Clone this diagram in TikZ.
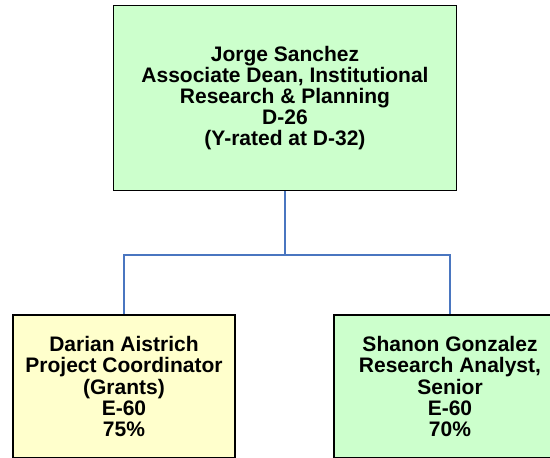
\documentclass[tikz,border=0pt]{standalone}
\usepackage{fontspec}
\setmainfont{Liberation Sans}
\definecolor{boxgreen}{HTML}{CCFFCC}
\definecolor{boxyellow}{HTML}{FFFFCC}
\definecolor{linkblue}{HTML}{4A76C0}
\tikzset{
  orgbox/.style={draw=black, line width=1.6pt, align=center, inner sep=0pt,
    font=\fontsize{21}{21.2}\selectfont\bfseries},
  link/.style={draw=linkblue, line width=1.4pt}
}
\begin{document}
\begin{tikzpicture}[x=1pt,y=-1pt]
\useasboundingbox (0,0) rectangle (550,458);
\clip (0,0) rectangle (550,458);
\node[orgbox, fill=boxgreen, minimum width=343pt, minimum height=185pt] (top) at (285,98)
  {Jorge Sanchez\\Associate Dean, Institutional\\Research \& Planning\\D-26\\(Y-rated at D-32)};
\node[orgbox, fill=boxyellow, minimum width=222pt, minimum height=143pt] (left) at (124,386.5)
  {Darian Aistrich\\Project Coordinator\\(Grants)\\E-60\\75\%};
\node[orgbox, fill=boxgreen, minimum width=232pt, minimum height=143pt] (right) at (450,386.5)
  {Shanon Gonzalez\\Research Analyst,\\Senior\\E-60\\70\%};
\coordinate (bus) at (285,255);
\draw[link] (top.south) -- (bus) -| (left.north);
\draw[link] (bus) -| (right.north);
\end{tikzpicture}
\end{document}
